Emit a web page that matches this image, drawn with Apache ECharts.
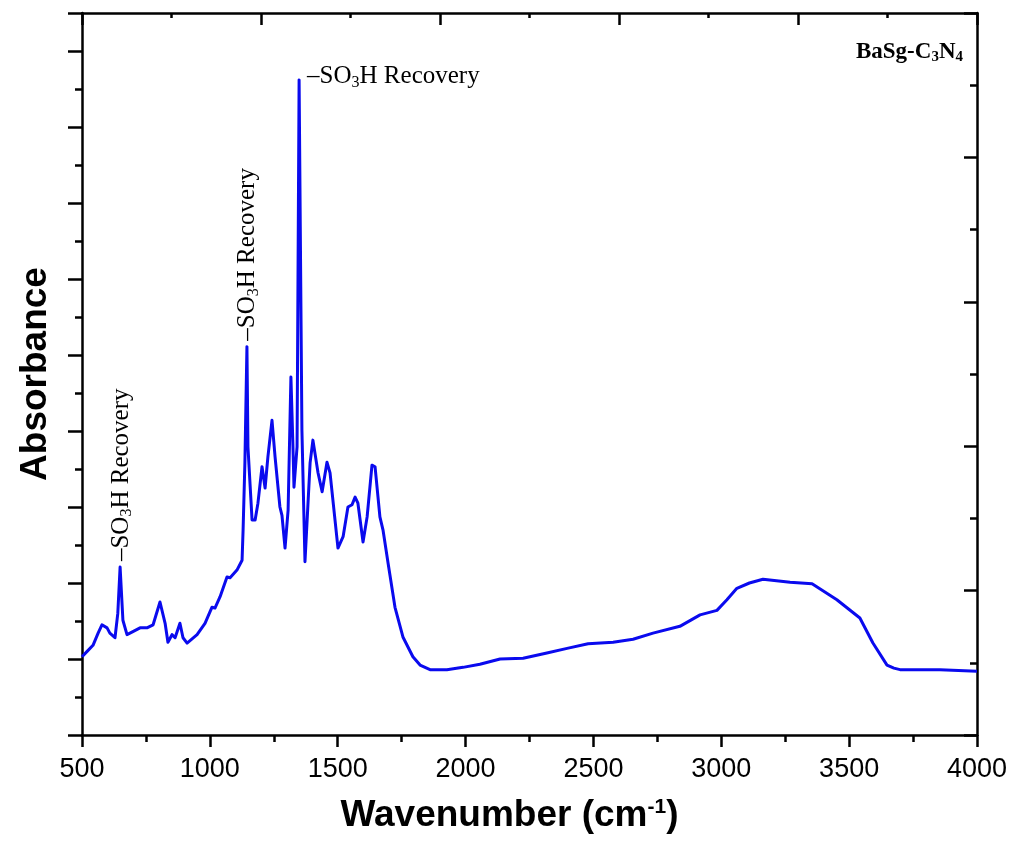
<!DOCTYPE html>
<html>
<head>
<meta charset="utf-8">
<script src="https://cdn.jsdelivr.net/npm/echarts@6/dist/echarts.min.js"></script>
<style>
html, body { margin: 0; padding: 0; background: #fff; }
#chart { width: 1019px; height: 859px; }
</style>
</head>
<body>
<div id="chart"></div>
<script>
// FTIR spectrum of BaSg-C3N4 (absorbance in arbitrary units)
var wavenumber = [500, 520, 543, 563, 578, 598, 609, 629, 640, 649, 660, 676, 699, 727, 754, 778, 805, 825, 836, 852, 864, 883,
    895, 911, 950, 981, 1008, 1020, 1040, 1067, 1079, 1106, 1126, 1130, 1137, 1145, 1149, 1165, 1177, 1188, 1204, 1216,
    1227, 1243, 1255, 1274, 1282, 1294, 1306, 1317, 1325, 1329, 1341, 1349, 1360, 1372, 1392, 1403, 1423, 1439,
    1458, 1470, 1501, 1521, 1540, 1556, 1568, 1579, 1599, 1615, 1634, 1646, 1665, 1677, 1697, 1724, 1755, 1794, 1822, 1861,
    1927, 1990, 2056, 2135, 2225, 2318, 2397, 2479, 2577, 2655, 2733, 2838, 2917, 2983, 3022, 3061, 3110, 3163, 3269, 3355, 3452,
    3542, 3593, 3648, 3675, 3699, 3855, 4000];
var absorbance = [1.03, 1.10, 1.18, 1.34, 1.45, 1.41, 1.34, 1.28, 1.60, 2.21, 1.51, 1.32, 1.36, 1.41, 1.41, 1.45, 1.75, 1.47, 1.22, 1.32, 1.28, 1.47,
    1.28, 1.21, 1.32, 1.47, 1.68, 1.67, 1.82, 2.08, 2.07, 2.17, 2.30, 2.70, 3.58, 5.11, 3.79, 2.83, 2.83, 3.05, 3.53, 3.25,
    3.66, 4.14, 3.66, 3.00, 2.89, 2.46, 2.96, 4.71, 3.79, 3.26, 3.79, 8.62, 4.01, 2.28, 3.58, 3.88, 3.45, 3.20,
    3.59, 3.45, 2.46, 2.61, 3.00, 3.03, 3.13, 3.05, 2.54, 2.87, 3.55, 3.53, 2.87, 2.70, 2.26, 1.68, 1.29, 1.03, 0.92, 0.86,
    0.86, 0.89, 0.93, 1.00, 1.01, 1.08, 1.14, 1.20, 1.22, 1.26, 1.34, 1.43, 1.58, 1.64, 1.78, 1.93, 2.00, 2.05, 2.01, 1.99, 1.78,
    1.54, 1.21, 0.92, 0.88, 0.86, 0.86, 0.84];
var xTicks = [500, 1000, 1500, 2000, 2500, 3000, 3500, 4000];
// annotated peaks (wavenumber) and their label
var peakPositions = [649, 1145, 1349];
var peakText = '{n|–SO}{s|3}{n|H Recovery}';
var sampleName = '{b|BaSg-C}{bs|3}{b|N}{bs|4}';

var chart = echarts.init(document.getElementById('chart'));

var seriesData = [];
for (var i = 0; i < wavenumber.length; i++) {
    seriesData.push([wavenumber[i], absorbance[i]]);
}

var axisColor = '#000';
var option = {
    animation: false,
    backgroundColor: '#fff',
    grid: {left: 82, right: 42, top: 13, bottom: 124},
    xAxis: [
        {
            type: 'value',
            position: 'bottom',
            min: xTicks[0],
            max: xTicks[xTicks.length - 1],
            interval: 500,
            name: '{t|Wavenumber (cm}{sup|-1}{t|)}',
            nameLocation: 'middle',
            nameGap: 62,
            nameTextStyle: {
                padding: [0, 40, 0, 0],
                rich: {
                    t: {fontSize: 37, fontWeight: 'bold', fontFamily: 'Liberation Sans', color: '#000'},
                    sup: {fontSize: 21, fontWeight: 'bold', fontFamily: 'Liberation Sans', color: '#000', padding: [0, 0, 16, 0]}
                }
            },
            axisLine: {onZero: false, lineStyle: {color: axisColor, width: 2.5}},
            axisTick: {inside: false, length: 12, lineStyle: {width: 2.5}},
            minorTick: {show: true, splitNumber: 2, length: 7, lineStyle: {color: axisColor, width: 2.5}},
            splitLine: {show: false},
            axisLabel: {
                fontSize: 27, fontFamily: 'Liberation Sans', color: '#000', margin: 21,
                formatter: function (v) { return String(v); }
            }
        },
        {
            // top frame axis, own tick spacing as in the original figure
            type: 'value',
            position: 'top',
            min: 0,
            max: 5,
            interval: 1,
            axisLine: {onZero: false, lineStyle: {color: axisColor, width: 2.5}},
            axisTick: {inside: true, length: 12, lineStyle: {width: 2.5}},
            minorTick: {show: true, splitNumber: 2, length: 5, lineStyle: {color: axisColor, width: 2.5}},
            splitLine: {show: false},
            axisLabel: {show: false}
        }
    ],
    yAxis: [
        {
            type: 'value',
            position: 'left',
            min: 0,
            max: 9.5,
            interval: 1,
            name: 'Absorbance',
            nameLocation: 'middle',
            nameGap: 28,
            nameTextStyle: {fontSize: 37, fontWeight: 'bold', fontFamily: 'Liberation Sans', color: '#000'},
            axisLine: {onZero: false, lineStyle: {color: axisColor, width: 2.5}},
            axisTick: {inside: false, length: 14, lineStyle: {width: 2.5}},
            minorTick: {show: true, splitNumber: 2, length: 7, lineStyle: {color: axisColor, width: 2.5}},
            splitLine: {show: false},
            axisLabel: {show: false}
        },
        {
            // right frame axis
            type: 'value',
            position: 'right',
            min: 0,
            max: 5,
            interval: 1,
            axisLine: {onZero: false, lineStyle: {color: axisColor, width: 2.5}},
            axisTick: {inside: true, length: 13, lineStyle: {width: 2.5}},
            minorTick: {show: true, splitNumber: 2, length: 7, lineStyle: {color: axisColor, width: 2.5}},
            splitLine: {show: false},
            axisLabel: {show: false}
        }
    ],
    series: [
        {
            name: 'BaSg-C3N4',
            type: 'line',
            xAxisIndex: 0,
            yAxisIndex: 0,
            data: seriesData,
            showSymbol: false,
            smooth: false,
            lineStyle: {color: '#0a0aee', width: 3, join: 'round'},
            z: 3
        }
    ]
};

chart.setOption(option);

// annotations tied to the peaks through the axis scales
function peakValue(wn) {
    return absorbance[wavenumber.indexOf(wn)];
}
var labelRich = {
    n: {fontSize: 25, fontFamily: 'Liberation Serif', color: '#111'},
    s: {fontSize: 16, fontFamily: 'Liberation Serif', color: '#111', padding: [12, 0, 0, 0]}
};
var graphics = [];
for (var k = 0; k < peakPositions.length; k++) {
    var p = chart.convertToPixel({xAxisIndex: 0, yAxisIndex: 0}, [peakPositions[k], peakValue(peakPositions[k])]);
    if (k < 2) {
        graphics.push({
            type: 'text',
            x: p[0] + 1,
            y: p[1] - 6,
            rotation: Math.PI / 2,
            style: {text: peakText, rich: labelRich, align: 'left', verticalAlign: 'middle'},
            z: 10
        });
    } else {
        graphics.push({
            type: 'text',
            x: p[0] + 8,
            y: p[1] - 3,
            style: {text: peakText, rich: labelRich, align: 'left', verticalAlign: 'middle'},
            z: 10
        });
    }
}
graphics.push({
    type: 'text',
    right: 56,
    top: 41,
    style: {
        text: sampleName,
        rich: {
            b: {fontSize: 23, fontWeight: 'bold', fontFamily: 'Liberation Serif', color: '#000'},
            bs: {fontSize: 15, fontWeight: 'bold', fontFamily: 'Liberation Serif', color: '#000', padding: [9, 0, 0, 0]}
        }
    },
    z: 10
});
chart.setOption({graphic: graphics});
</script>
</body>
</html>
